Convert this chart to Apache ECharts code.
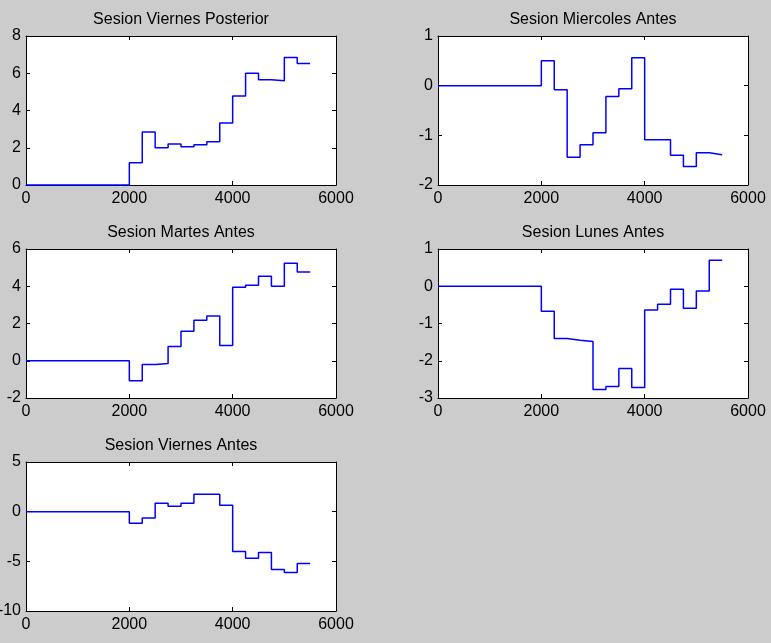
<!DOCTYPE html>
<html>
<head>
<meta charset="utf-8">
<script src="https://cdn.jsdelivr.net/npm/echarts@6/dist/echarts.min.js"></script>
<style>
html,body{margin:0;padding:0;background:#cccccc;}
#chart{width:771px;height:643px;}
</style>
</head>
<body>
<div id="chart"></div>
<script>
const xBreaks = [0, 2000, 2250, 2500, 2750, 3000, 3250, 3500, 3750, 4000, 4250, 4500, 4750, 5000, 5250, 5500];

const titles = ['Sesion Viernes Posterior', 'Sesion Miercoles Antes', 'Sesion Martes Antes', 'Sesion Lunes Antes', 'Sesion Viernes Antes'];

const viernesPosterior = [0, 1.2, 2.85, 2.0, 2.2, 2.05, 2.16, 2.32, 3.33, 4.78, 6.0, 5.65, 5.6, 6.85, 6.52, 6.52];
const miercolesAntes = [0, 0.5, -0.08, -1.44, -1.19, -0.95, -0.22, -0.06, 0.56, -1.09, -1.09, -1.40, -1.63, -1.35, -1.39, -1.39];
const martesAntes = [0, -1.07, -0.2, -0.15, 0.77, 1.58, 2.17, 2.40, 0.82, 3.95, 4.06, 4.54, 4.0, 5.24, 4.76, 4.76];
const lunesAntes = [0, -0.67, -1.40, -1.45, -1.48, -2.77, -2.69, -2.21, -2.72, -0.64, -0.48, -0.08, -0.59, -0.13, 0.70, 0.70];
const viernesAntes = [0, -1.17, -0.63, 0.85, 0.55, 0.85, 1.76, 1.76, 0.65, -4.0, -4.7, -4.1, -5.83, -6.13, -5.21, -5.21];

const xTicks = {min: 0, max: 6000, interval: 2000};
const yTicks = [
  {min: 0, max: 8, interval: 2},
  {min: -2, max: 1, interval: 1},
  {min: -2, max: 6, interval: 2},
  {min: -3, max: 1, interval: 1},
  {min: -10, max: 5, interval: 5}
];

const seriesValues = [viernesPosterior, miercolesAntes, martesAntes, lunesAntes, viernesAntes];

const boxes = [
  {left: 26, top: 36},
  {left: 438, top: 36},
  {left: 26, top: 249},
  {left: 438, top: 249},
  {left: 26, top: 462}
];
const W = 310, H = 149;
const FONT = 'Liberation Sans, Arial, sans-serif';
const plain = v => String(v);

const grids = [], xAxes = [], yAxes = [], series = [], graphics = [];
boxes.forEach((b, i) => {
  grids.push({left: b.left, top: b.top, width: W, height: H, show: true, backgroundColor: '#ffffff', borderWidth: 0,
    containLabel: false, outerBoundsMode: 'none'});
  const lineStyle = {color: '#000', width: 1};
  const common = {
    axisLine: {show: true, onZero: false, lineStyle: lineStyle},
    axisTick: {show: true, inside: true, length: 4, lineStyle: lineStyle},
    splitLine: {show: false}
  };
  xAxes.push(Object.assign({type: 'value', gridIndex: i, position: 'bottom', min: xTicks.min, max: xTicks.max, interval: xTicks.interval,
    axisLabel: {show: true, color: '#000', fontSize: 16, fontFamily: FONT, margin: 6, formatter: plain, hideOverlap: false}}, common));
  xAxes.push(Object.assign({type: 'value', gridIndex: i, position: 'top', min: xTicks.min, max: xTicks.max, interval: xTicks.interval,
    axisLabel: {show: false}}, common));
  yAxes.push(Object.assign({type: 'value', gridIndex: i, position: 'left', min: yTicks[i].min, max: yTicks[i].max, interval: yTicks[i].interval,
    axisLabel: {show: true, color: '#000', fontSize: 16, fontFamily: FONT, margin: 5, formatter: plain, hideOverlap: false}}, common));
  yAxes.push(Object.assign({type: 'value', gridIndex: i, position: 'right', min: yTicks[i].min, max: yTicks[i].max, interval: yTicks[i].interval,
    axisLabel: {show: false}}, common));
  series.push({
    type: 'line', step: 'end', xAxisIndex: 2 * i, yAxisIndex: 2 * i,
    data: xBreaks.map((x, k) => [x, seriesValues[i][k]]),
    showSymbol: false, symbol: 'none', clip: false, z: 5,
    lineStyle: {color: '#0000ff', width: 1.5},
    animation: false
  });
  graphics.push({
    type: 'text', x: b.left + W / 2, y: b.top - 24, z: 10,
    style: {text: titles[i], fill: '#000', font: '16px ' + FONT, textAlign: 'center'}
  });
});

const chart = echarts.init(document.getElementById('chart'), null, {renderer: 'canvas'});
chart.setOption({
  backgroundColor: '#cccccc',
  animation: false,
  grid: grids,
  xAxis: xAxes,
  yAxis: yAxes,
  series: series,
  graphic: graphics
});
</script>
</body>
</html>
